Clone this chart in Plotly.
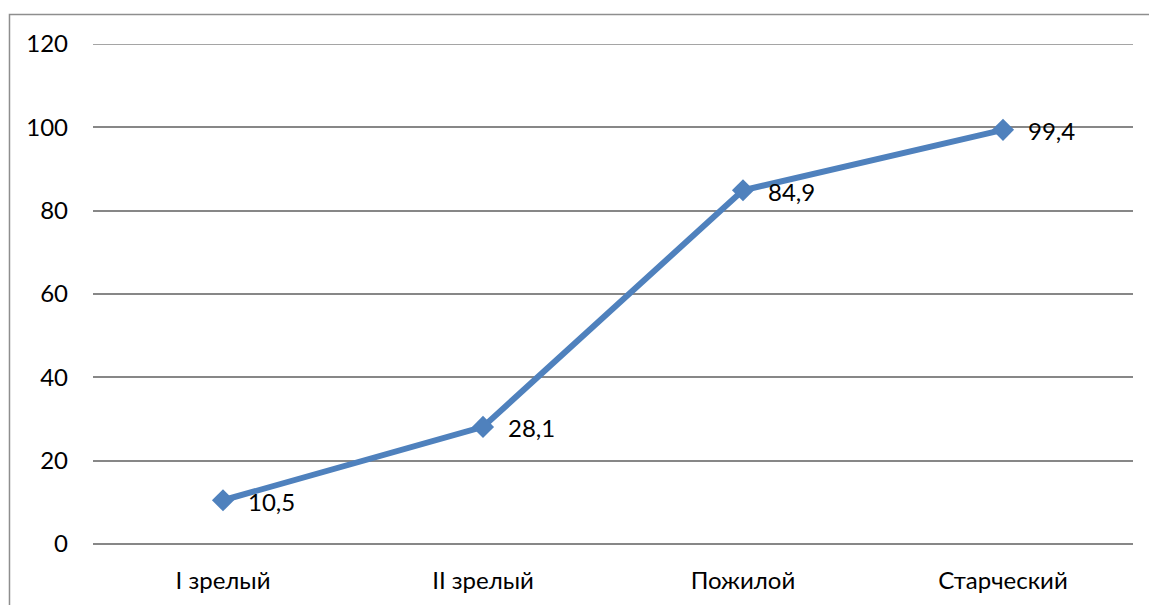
import plotly.graph_objects as go

categories = ["I зрелый", "II зрелый", "Пожилой", "Старческий"]
values = [10.5, 28.1, 84.9, 99.4]
y_ticks = [0, 20, 40, 60, 80, 100, 120]

FONT = "Lato"
FS = 24
BLUE = "#4F81BD"
GRID = "#878787"

fig = go.Figure()
fig.add_trace(go.Scatter(
    x=categories, y=values, mode="lines+markers",
    line=dict(color=BLUE, width=6),
    marker=dict(symbol="diamond", size=17, color=BLUE),
    showlegend=False, hoverinfo="skip",
))

for c, v in zip(categories, values):
    fig.add_annotation(
        x=c, y=v, text=f"{v:.1f}".replace(".", ","),
        showarrow=False, xanchor="left", yanchor="middle",
        xshift=23, yshift=-1,
        font=dict(family=FONT, size=FS, color="#000000"),
    )

# top gridline at the range end
fig.add_hline(y=y_ticks[-1], line=dict(color=GRID, width=1.5), layer="below")

# outer chart border (left, top; right and bottom cropped)
fig.add_shape(
    type="path", xref="paper", yref="paper",
    path="M -0.0803,-0.2 L -0.0803,1.059 L 1.05,1.059",
    line=dict(color="#8e8e8e", width=1.5),
)

fig.update_layout(
    width=1149, height=605,
    margin=dict(l=93, r=16, t=44, b=61),
    paper_bgcolor="white", plot_bgcolor="white",
    font=dict(family=FONT, size=FS, color="#000000"),
    xaxis=dict(
        type="category", range=[-0.5, 3.5],
        showgrid=False, showline=False, zeroline=False,
        ticks="", ticklabelstandoff=20,
        tickfont=dict(family=FONT, size=FS),
    ),
    yaxis=dict(
        range=[0, 120], tickvals=y_ticks,
        showgrid=True, gridcolor=GRID, gridwidth=1.5,
        zeroline=True, zerolinecolor=GRID, zerolinewidth=1.5,
        showline=False, ticks="", ticklabelstandoff=24,
        tickfont=dict(family=FONT, size=FS),
    ),
)

fig.write_html("out.html")
